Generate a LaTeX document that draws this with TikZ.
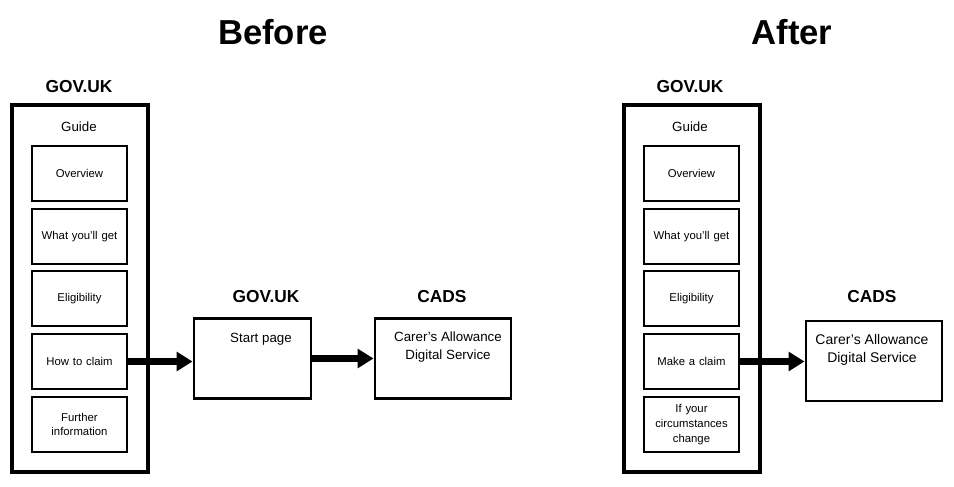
\documentclass[tikz,border=0pt]{standalone}
\usepackage{fontspec}
\setmainfont{Liberation Sans}
\usetikzlibrary{arrows.meta}
\tikzset{
  outer/.style={draw, line width=2.6pt, minimum width=136*0.75pt, minimum height=367*0.75pt, inner sep=0pt},
  page/.style={draw, line width=0.8pt, minimum width=95*0.75pt, minimum height=55*0.75pt,
    text width=62pt, align=center, font=\fontsize{8.5}{11}\selectfont, inner sep=0pt},
  svc/.style={draw, line width=2.2pt, minimum width=136*0.75pt, minimum height=80*0.75pt, inner sep=0pt},
  head/.style={font=\bfseries\fontsize{13}{15}\selectfont},
  title/.style={font=\bfseries\fontsize{26}{28}\selectfont},
  small/.style={font=\fontsize{10}{12}\selectfont, align=center},
  flow/.style={line width=5pt, -{Triangle[length=12pt, width=14pt]}}
}
\begin{document}
\begin{tikzpicture}[x=0.75pt, y=-0.75pt]
  \useasboundingbox (0,0) rectangle (954,486);

  % Before
  \node[title] (before) at (273,32) {Before};
  \node[head] (bgov) at (79,87) {GOV.UK};
  \node[outer] (bguide) at (80,288.5) {};
  \node[small] (bguidet) at (79,127) {Guide};
  \node[page] (b1) at (79.5,173.5) {Overview};
  \node[page] (b2) at (79.5,236.5) {What you'll get};
  \node[page] (b3) at (79.5,298.5) {Eligibility};
  \node[page] (b4) at (79.5,361.5) {How to claim};
  \node[page] (b5) at (79.5,424.5) {Further\\information};
  \node[head] (bgov2) at (266,297) {GOV.UK};
  \node[svc, minimum width=117*0.75pt] (start) at (252.5,358.5) {};
  \node[small] (startt) at (261,339) {Start page};
  \node[head] (bcads) at (442,297) {CADS};
  \node[svc] (bserv) at (443,358.5) {};
  \node[small, font=\fontsize{10}{14}\selectfont] (bservt) at (448,347) {Carer's Allowance\\Digital Service};
  \draw[flow] (b4.east) -- (start.west |- b4.east);
  \draw[flow] (start.east) -- (bserv.west);

  % After
  \node[title] (after) at (792,32) {After};
  \node[head] (agov) at (690,87) {GOV.UK};
  \node[outer] (aguide) at (692,288.5) {};
  \node[small] (aguidet) at (690,127) {Guide};
  \node[page] (a1) at (691.5,173.5) {Overview};
  \node[page] (a2) at (691.5,236.5) {What you'll get};
  \node[page] (a3) at (691.5,298.5) {Eligibility};
  \node[page] (a4) at (691.5,361.5) {Make a claim};
  \node[page] (a5) at (691.5,424.5) {If your\\circumstances\\change};
  \node[head] (acads) at (872,297) {CADS};
  \node[svc] (aserv) at (874,361) {};
  \node[small, font=\fontsize{10.5}{14}\selectfont] (aservt) at (872,350) {Carer's Allowance\\Digital Service};
  \draw[flow] (a4.east) -- (aserv.west |- a4.east);
\end{tikzpicture}
\end{document}
